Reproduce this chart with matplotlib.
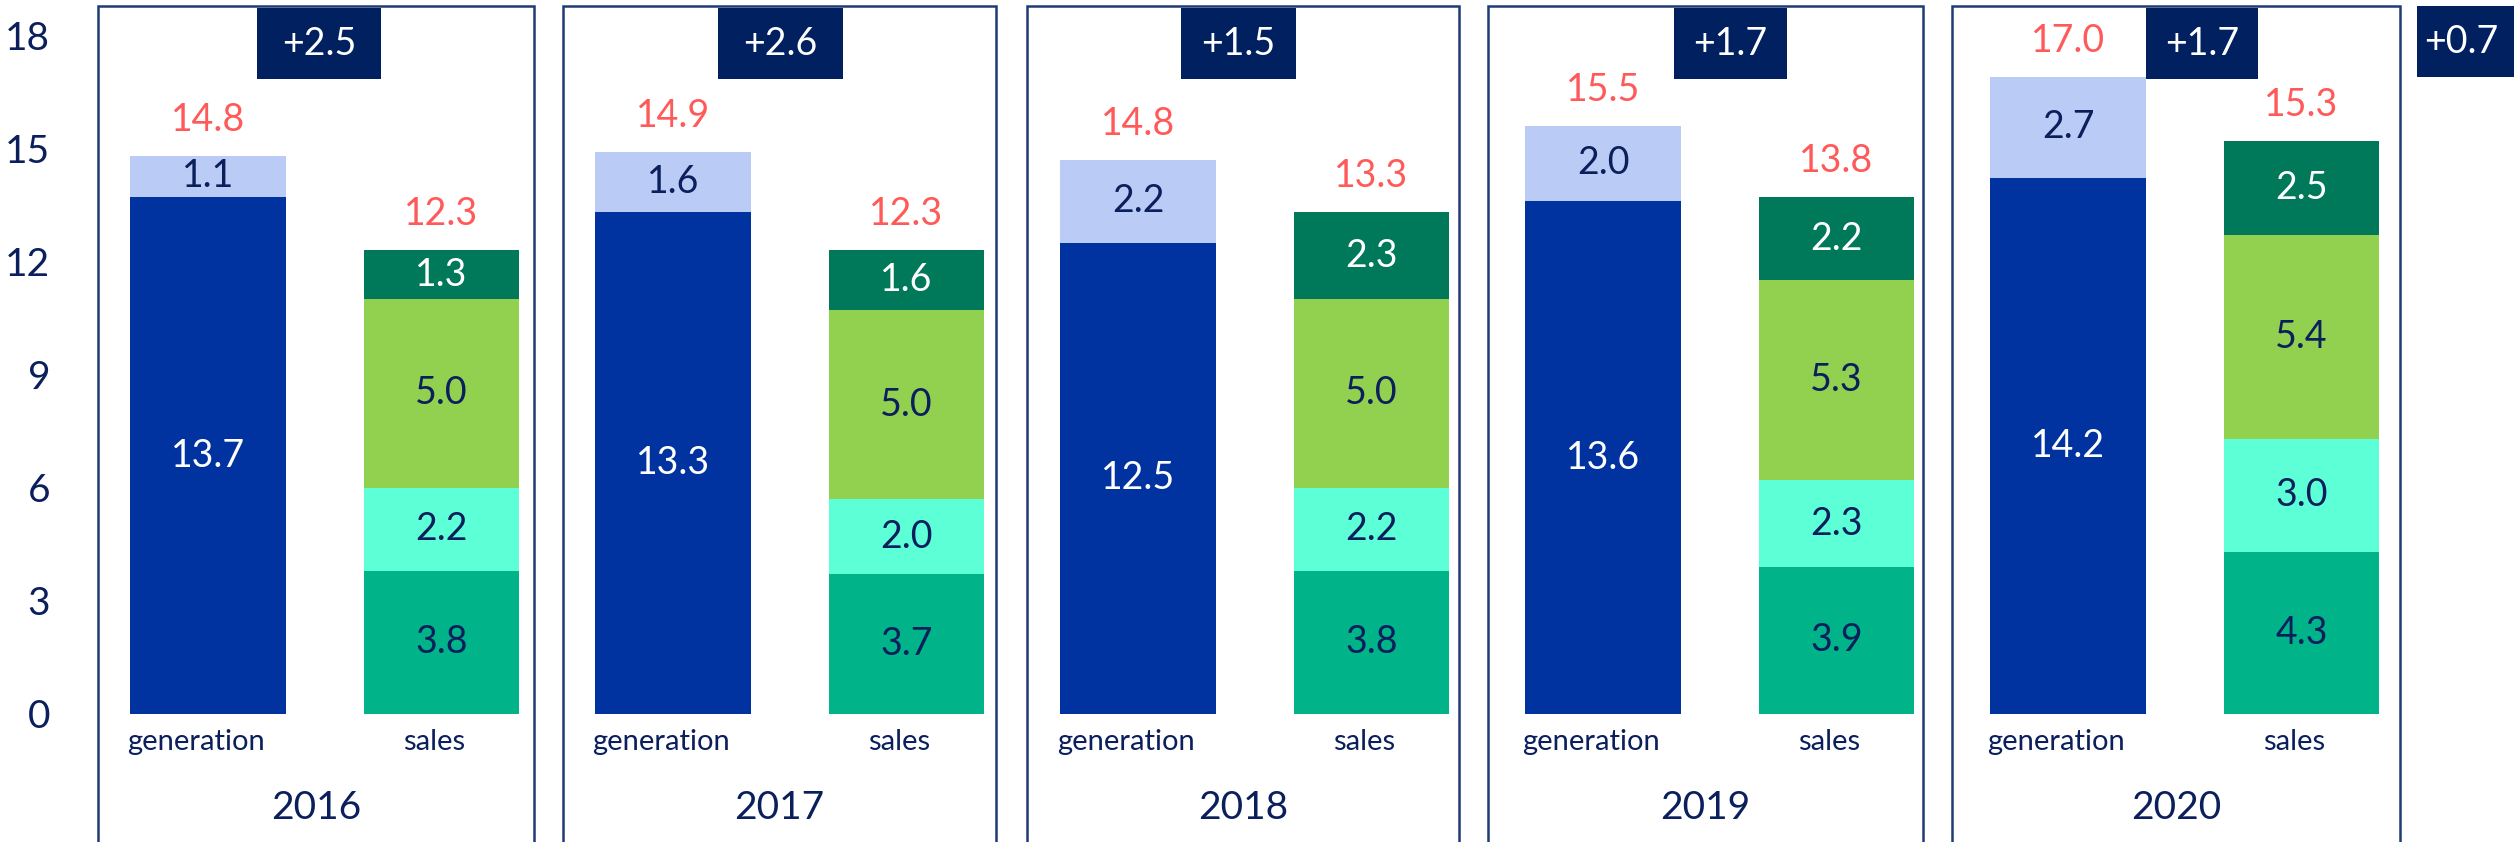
import matplotlib
matplotlib.use("Agg")
import matplotlib.pyplot as plt
from matplotlib.patches import Rectangle
import numpy as np

plt.rcParams['font.family'] = ['Lato', 'DejaVu Sans']

# ---------------- data ----------------
years = ['2016', '2017', '2018', '2019', '2020']
categories = ['generation', 'sales']
gen_base = [13.7, 13.3, 12.5, 13.6, 14.2]
gen_extra = [1.1, 1.6, 2.2, 2.0, 2.7]
gen_total = [14.8, 14.9, 14.8, 15.5, 17.0]
sales_a = [3.8, 3.7, 3.8, 3.9, 4.3]
sales_b = [2.2, 2.0, 2.2, 2.3, 3.0]
sales_c = [5.0, 5.0, 5.0, 5.3, 5.4]
sales_d = [1.3, 1.6, 2.3, 2.2, 2.5]
sales_total = [12.3, 12.3, 13.3, 13.8, 15.3]
diff_labels = ['+2.5', '+2.6', '+1.5', '+1.7', '+1.7']
extra_label = '+0.7'
yticks = [0, 3, 6, 9, 12, 15, 18]

# ---------------- style ----------------
NAVY = '#0B1F5C'
BADGE = '#002060'
RED = '#FF5A5A'
BORDER = '#1F3B73'
C_GEN = '#0033A0'
C_GEN_X = '#BACCF5'
C_SA = '#00B389'
C_SB = '#5DFFD6'
C_SC = '#92D050'
C_SD = '#00785A'

W, H, DPI = 2514, 842, 100
fig = plt.figure(figsize=(W / DPI, H / DPI), dpi=DPI)
L = 70
ax = fig.add_axes([L / W, 0, 1 - L / W, 1])

def px2x(px):
    return (px - 324.75) / 465.0

PXU = 37.72
ax.set_xlim(px2x(L), px2x(W))
ax.set_ylim((714 - H) / PXU, 714 / PXU)

n = len(years)
x = np.arange(n)
xg = x - 0.251
xs = x + 0.251
bw = 0.334

def stack(xpos, layers, colors, tcolors):
    bottom = np.zeros(n)
    for vals, col, tc in zip(layers, colors, tcolors):
        vals = np.array(vals)
        ax.bar(xpos, vals, bw, bottom=bottom, color=col, zorder=2)
        for xi, b, v in zip(xpos, bottom, vals):
            ax.text(xi, b + v / 2, f'{v:.1f}', ha='center', va='center',
                    fontsize=27, color=tc, zorder=4)
        bottom = bottom + vals
    return bottom

gtop = stack(xg, [gen_base, gen_extra], [C_GEN, C_GEN_X], ['white', NAVY])
stop = stack(xs, [sales_a, sales_b, sales_c, sales_d],
             [C_SA, C_SB, C_SC, C_SD], [NAVY, NAVY, NAVY, 'white'])

for i in range(n):
    ax.text(xg[i], gtop[i] + 0.95, f'{gen_total[i]:.1f}', ha='center',
            va='center', fontsize=27, color=RED, zorder=4)
    ax.text(xs[i], stop[i] + 0.95, f'{sales_total[i]:.1f}', ha='center',
            va='center', fontsize=27, color=RED, zorder=4)
    ax.text(xg[i] - 0.025, -0.74, categories[0], ha='center', va='center',
            fontsize=21, color=NAVY)
    ax.text(xs[i] - 0.015, -0.74, categories[1], ha='center', va='center',
            fontsize=21, color=NAVY)

# panel boxes
box_l = [-0.488, -0.488, -0.490, -0.498, -0.500]
box_r = [0.450, 0.443, 0.439, 0.437, 0.463]
top_y = 18.77
for i in range(n):
    r = Rectangle((x[i] + box_l[i], -8), box_r[i] - box_l[i], top_y + 8,
                  fill=False, edgecolor=BORDER, lw=1.8, zorder=1)
    ax.add_patch(r)
    cx = x[i] + (box_l[i] + box_r[i]) / 2
    ax.text(cx, -2.49, years[i], ha='center', va='center', fontsize=28,
            color=NAVY)

# badges
badge_c = [-0.012, -0.020, -0.035, 0.023, 0.037]
badge_w = [0.267, 0.269, 0.247, 0.243, 0.241]
b_bot, b_top = 16.83, 18.72
for i in range(n):
    cx = x[i] + badge_c[i]
    ax.add_patch(Rectangle((cx - badge_w[i] / 2, b_bot), badge_w[i],
                           b_top - b_bot, facecolor=BADGE, edgecolor='none',
                           zorder=5))
    ax.text(cx, (b_bot + b_top) / 2, diff_labels[i], ha='center',
            va='center', fontsize=27, color='white', zorder=6)

ex = x[-1] + 0.4995
ax.add_patch(Rectangle((ex, b_bot + 0.05), 0.3, b_top - b_bot,
                       facecolor=BADGE, edgecolor='none', zorder=5))
ax.text(x[-1] + 0.595, (b_bot + b_top) / 2 + 0.05, extra_label, ha='center',
        va='center', fontsize=27, color='white', zorder=6)

ax.set_yticks(yticks)
ax.set_yticklabels([str(t) for t in yticks], fontsize=28, color=NAVY)
ax.tick_params(axis='y', length=0, pad=14.4)
ax.set_xticks([])
for s in ax.spines.values():
    s.set_visible(False)
ax.patch.set_alpha(0)

fig.savefig('out.png', dpi=DPI)
